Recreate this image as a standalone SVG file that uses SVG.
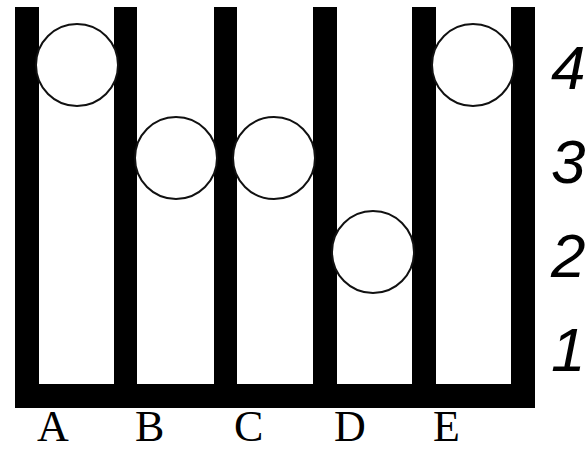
<svg xmlns="http://www.w3.org/2000/svg" width="587" height="451" viewBox="0 0 587 451">
<style>
.bar{fill:#000}
.ball{fill:#fff;stroke:#111;stroke-width:2}
.lvl{font-family:"Liberation Sans",Arial,sans-serif;font-style:italic;font-size:62px;fill:#000}
.col{font-family:"Liberation Serif","Times New Roman",serif;font-size:44px;fill:#000}
</style>
<rect width="587" height="451" fill="#fff"/>
<g id="frame">
<rect class="bar" x="15" y="7" width="24" height="401"/>
<rect class="bar" x="114" y="7" width="23" height="401"/>
<rect class="bar" x="214" y="7" width="23" height="401"/>
<rect class="bar" x="313" y="7" width="24" height="401"/>
<rect class="bar" x="412" y="7" width="24" height="401"/>
<rect class="bar" x="511" y="7" width="24" height="401"/>
<rect class="bar" x="15" y="384" width="520" height="24"/>
</g>
<g id="balls">
<circle id="ballA" class="ball" cx="77" cy="65" r="41"/>
<circle id="ballB" class="ball" cx="176" cy="158" r="41"/>
<circle id="ballC" class="ball" cx="274" cy="158" r="41"/>
<circle id="ballD" class="ball" cx="373" cy="252" r="41"/>
<circle id="ballE" class="ball" cx="473" cy="65" r="41"/>
</g>
<g id="levels">
<text class="lvl" x="551" y="89">4</text>
<text class="lvl" x="551" y="183">3</text>
<text class="lvl" x="551" y="277">2</text>
<text class="lvl" x="551" y="371">1</text>
</g>
<g id="columns">
<text class="col" x="37" y="441">A</text>
<text class="col" x="135" y="441">B</text>
<text class="col" x="234" y="441">C</text>
<text class="col" x="334" y="441">D</text>
<text class="col" x="433" y="441">E</text>
</g>
</svg>
